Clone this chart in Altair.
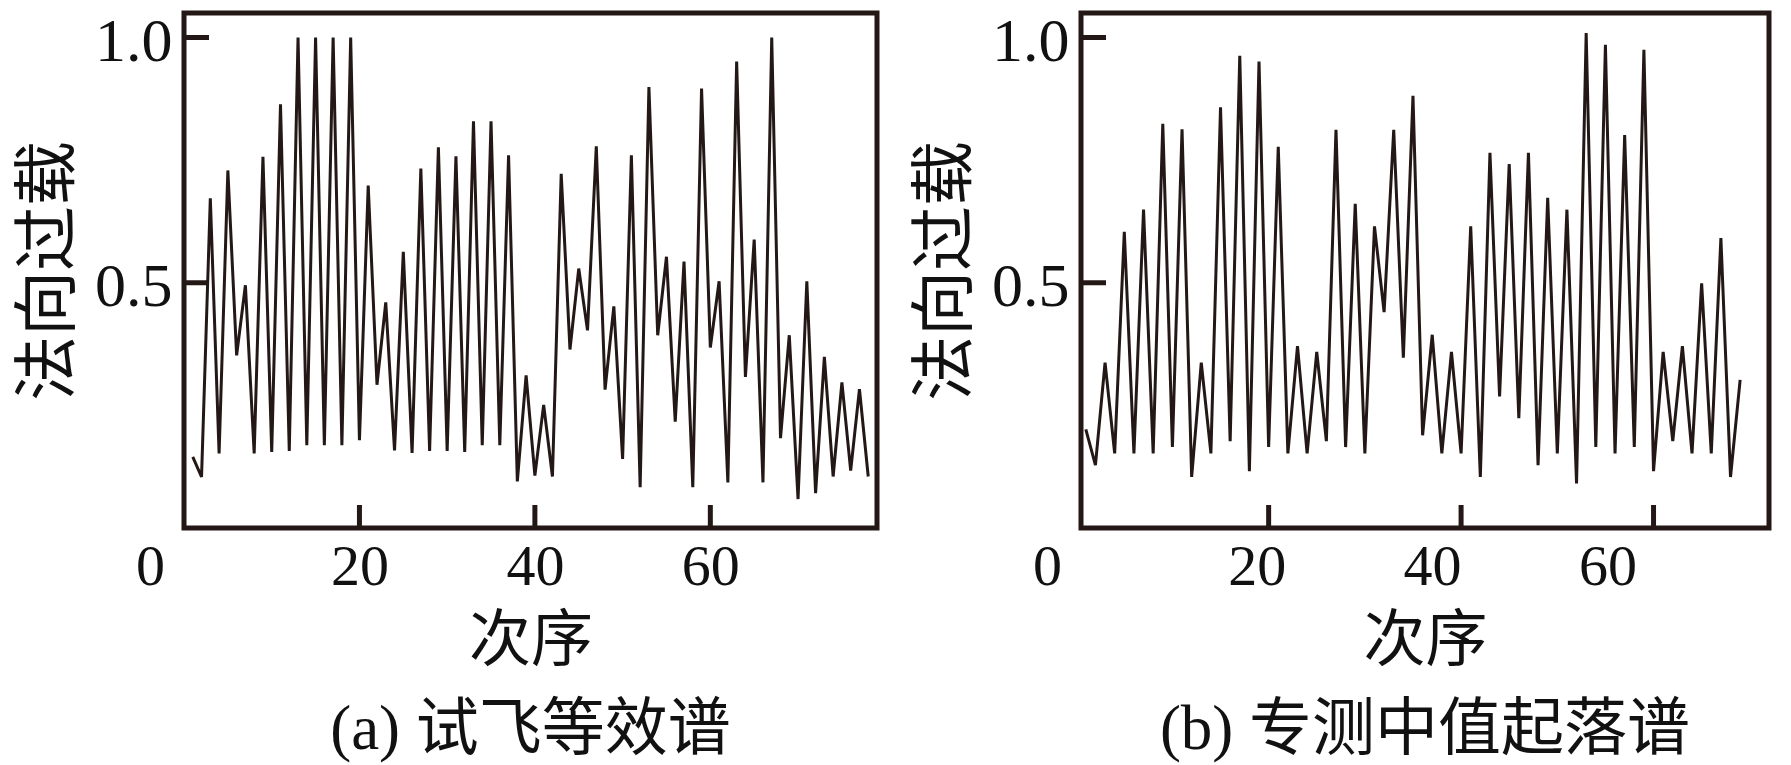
import altair as alt
import pandas as pd

# ---- data ----
left_vals = [0.145, 0.104, 0.672, 0.152, 0.729, 0.352, 0.495, 0.152, 0.757, 0.155,
             0.864, 0.157, 1.000, 0.169, 1.000, 0.169, 1.000, 0.169, 1.000, 0.179,
             0.698, 0.292, 0.460, 0.158, 0.563, 0.153, 0.733, 0.157, 0.776, 0.157,
             0.758, 0.155, 0.829, 0.169, 0.829, 0.169, 0.760, 0.095, 0.311, 0.107,
             0.251, 0.105, 0.722, 0.364, 0.529, 0.403, 0.778, 0.282, 0.452, 0.141,
             0.760, 0.083, 0.899, 0.393, 0.553, 0.217, 0.543, 0.083, 0.896, 0.368,
             0.503, 0.093, 0.951, 0.308, 0.588, 0.093, 1.000, 0.183, 0.393, 0.059,
             0.503, 0.071, 0.349, 0.105, 0.297, 0.117, 0.283, 0.105]
right_vals = [0.201, 0.128, 0.337, 0.152, 0.604, 0.152, 0.649, 0.152, 0.824, 0.165,
              0.813, 0.104, 0.337, 0.152, 0.858, 0.177, 0.963, 0.116, 0.951, 0.165,
              0.777, 0.152, 0.371, 0.152, 0.359, 0.177, 0.812, 0.165, 0.661, 0.152,
              0.615, 0.440, 0.812, 0.347, 0.881, 0.189, 0.394, 0.152, 0.359, 0.152,
              0.615, 0.104, 0.765, 0.268, 0.742, 0.224, 0.765, 0.128, 0.673, 0.152,
              0.649, 0.091, 1.009, 0.165, 0.985, 0.152, 0.801, 0.165, 0.975, 0.116,
              0.359, 0.177, 0.371, 0.152, 0.499, 0.152, 0.591, 0.104, 0.302]
left_x = list(range(1, len(left_vals) + 1))
right_x = list(range(1, len(right_vals) + 1))

x_tick_values = [20, 40, 60]
y_tick_values = [0.5, 1.0]
y_title = "法向过载"
x_title = "次序"
captions = ["(a) 试飞等效谱", "(b) 专测中值起落谱"]

INK = "#231815"
TXT = "#111111"
NUM_FONT = "Liberation Serif"
CJK_FONT = "Noto Sans CJK SC"
MIX_FONT = "Liberation Serif, Noto Sans CJK SC"
Y_DOMAIN = [0, 1.05]
H = 515


def offset_rule(values, offsets):
    # per-label horizontal shift of the x tick labels (style only)
    conds = [{"test": f"datum.value === {v}", "value": o}
             for v, o in zip(values, offsets) if o != 0]
    return {"condition": conds, "value": 0}


def panel(vals, xs, width, x_domain, label_offsets, caption):
    df = pd.DataFrame({"i": xs, "v": vals})
    yscale = alt.Scale(domain=Y_DOMAIN, nice=False, zero=False)
    xscale = alt.Scale(domain=x_domain, nice=False, zero=False)
    label_values = [x_domain[0]] + x_tick_values

    x_axis = alt.Axis(
        values=label_values, labelExpr="datum.value < 1 ? '0' : format(datum.value, 'd')",
        ticks=False, tickSize=0, domain=False, grid=False,
        labelFont=NUM_FONT, labelFontSize=58, labelColor=TXT,
        labelPadding=10, labelFlush=False, labelOverlap=False,
        labelOffset=offset_rule(label_values, label_offsets),
        title=x_title, titleFont=CJK_FONT, titleFontSize=62,
        titleFontWeight="normal", titleColor=TXT,
        titleY=113, titleBaseline="middle")
    y_axis = alt.Axis(
        values=y_tick_values, format=".1f", ticks=False, tickSize=0,
        domain=False, grid=False, labelFont=NUM_FONT, labelFontSize=62,
        labelColor=TXT, labelPadding=12, labelBaseline="top", labelOffset=-26,
        title=y_title, titleFont=CJK_FONT, titleFontSize=65,
        titleFontWeight="normal", titleColor=TXT, titleAngle=270,
        titleX=-136, titleY=H / 2, titleBaseline="middle", titleAlign="center")

    line = alt.Chart(df).mark_line(color=INK, strokeWidth=3).encode(
        x=alt.X("i:Q", scale=xscale, axis=x_axis),
        y=alt.Y("v:Q", scale=yscale, axis=y_axis),
    )

    yticks = alt.Chart(pd.DataFrame({"t": y_tick_values})).mark_rule(
        color=INK, strokeWidth=5).encode(
        y=alt.Y("t:Q", scale=yscale, axis=y_axis),
        x=alt.value(0), x2=alt.value(25))

    xticks = alt.Chart(pd.DataFrame({"t": x_tick_values})).mark_rule(
        color=INK, strokeWidth=5).encode(
        x=alt.X("t:Q", scale=xscale, axis=x_axis),
        y=alt.value(H), y2=alt.value(H - 23))

    return alt.layer(line, yticks, xticks).properties(
        width=width, height=H,
        title=alt.TitleParams(caption, orient="bottom", anchor="middle",
                              font=MIX_FONT, fontSize=63, fontWeight="normal",
                              color=TXT, offset=27))


left = panel(left_vals, left_x, 693, [0, 79], [-34, 0, 0, 0], captions[0])
right = panel(right_vals, right_x, 688, [0.5, 72], [-34, -12, -29, -46], captions[1])

chart = alt.hconcat(left, right, spacing=30).properties(
    padding={"left": 5, "top": 0, "right": 5, "bottom": 0}
).configure_view(stroke=INK, strokeWidth=5)

chart.save("out.html", embed_options={"renderer": "svg", "actions": False})
